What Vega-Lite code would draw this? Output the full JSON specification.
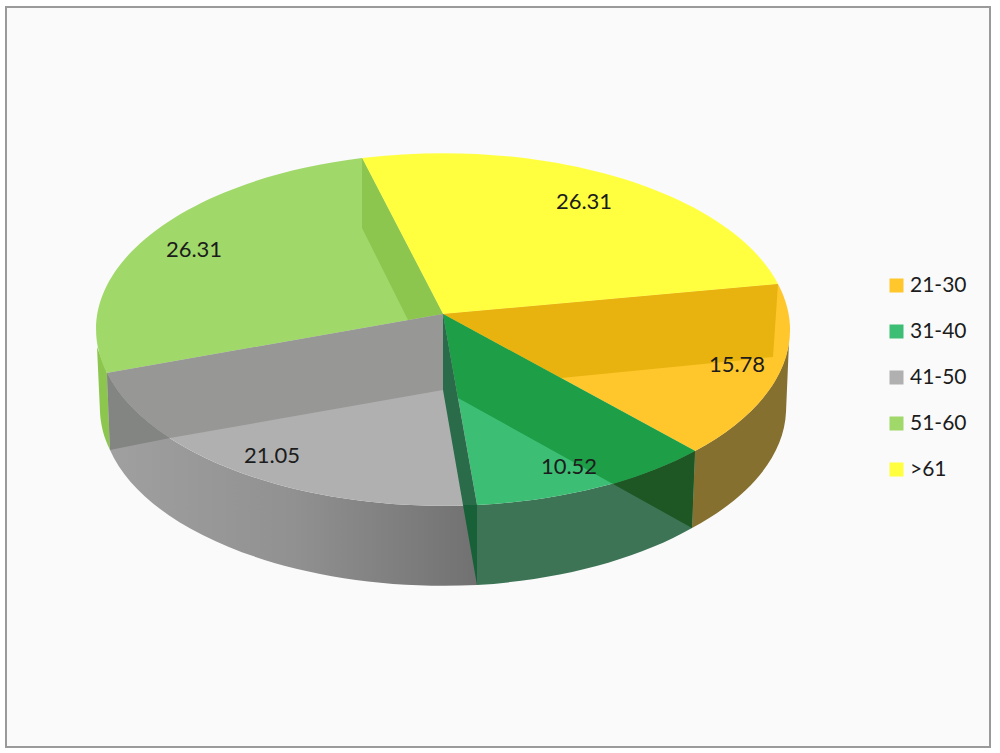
{
  "$schema": "https://vega.github.io/schema/vega-lite/v6.json",
  "width": 984, "height": 740,
  "autosize": "none",
  "padding": {"left": 6, "top": 7, "right": 10, "bottom": 6},
  "background": "#ffffff",
  "config": {
    "text": {"font": "Lato", "fontSize": 22, "color": "#1c1c1c"},
    "point": {"filled": true, "opacity": 1, "size": 4, "strokeWidth": 0}
  },
  "data": {"values": [
    {"age": "51-60", "value": 26.31},
    {"age": ">61", "value": 26.31},
    {"age": "21-30", "value": 15.78},
    {"age": "31-40", "value": 10.52},
    {"age": "41-50", "value": 21.05}
  ]},
  "layer": [
    {
      "transform": [{"filter": "datum.age == '51-60'"}],
      "mark": {"type": "rect", "fill": "#fafafa", "stroke": "#9a9a9a", "strokeWidth": 2}
    },
    {
      "transform": [{"filter": "datum.age == '51-60'"}],
      "mark": {"type": "point", "fill": "#8dc64e",
        "shape": "M-401 -30L-398 35A343 174 0 0 0 -388 73L-391 -4Z"}
    },
    {
      "transform": [{"filter": "datum.age == '21-30'"}],
      "mark": {"type": "point", "fill": "#85702f",
        "shape": "M197 74A347 176 0 0 0 291 -35L288 35A343 174 0 0 1 194 151Z"}
    },
    {
      "transform": [{"filter": "datum.age == '31-40'"}],
      "mark": {"type": "point", "fill": "#3d7456",
        "shape": "M-21 128A347 176 0 0 0 197 74L194 151A343 174 0 0 1 -21 208Z"}
    },
    {
      "transform": [{"filter": "datum.age == '41-50'"}],
      "mark": {"type": "point",
        "fill": {"x1": 0, "y1": 0, "x2": 1, "y2": 0, "gradient": "linear", "stops": [
          {"offset": 0, "color": "#a0a0a0"}, {"offset": 0.5, "color": "#919191"}, {"offset": 1, "color": "#717171"}
        ]},
        "shape": "M-391 -4A347 176 0 0 0 -21 128L-21 208A343 174 0 0 1 -388 73Z"}
    },
    {
      "transform": [{"filter": "datum.age == '21-30'"}],
      "mark": {"type": "point", "shape": "M-55 -63L280 -93A347 176 0 0 1 197 74Z"},
      "encoding": {"color": {"field": "age", "type": "nominal", "title": null,
        "scale": {
          "domain": ["21-30", "31-40", "41-50", "51-60", ">61"],
          "range": ["#ffc72c", "#3cbf74", "#b0b0b0", "#a0d86a", "#ffff40"]},
        "legend": {"orient": "none", "legendX": 880, "legendY": 268, "symbolType": "square", "symbolSize": 196,
          "symbolStrokeWidth": 0, "labelFont": "Lato", "labelFontSize": 21, "labelColor": "#1c1c1c", "labelOffset": 3, "rowPadding": 24,
          "values": ["21-30", "31-40", "41-50", "51-60", ">61"]}}}
    },
    {
      "transform": [{"filter": "datum.age == '31-40'"}],
      "mark": {"type": "point", "shape": "M-55 -63L197 74A347 176 0 0 1 -21 128Z"},
      "encoding": {"color": {"field": "age", "type": "nominal"}}
    },
    {
      "transform": [{"filter": "datum.age == '41-50'"}],
      "mark": {"type": "point", "shape": "M-55 -63L-21 128A347 176 0 0 1 -391 -4Z"},
      "encoding": {"color": {"field": "age", "type": "nominal"}}
    },
    {
      "transform": [{"filter": "datum.age == '51-60'"}],
      "mark": {"type": "point", "shape": "M-55 -63L-391 -4A347 176 0 0 1 -136 -219Z"},
      "encoding": {"color": {"field": "age", "type": "nominal"}}
    },
    {
      "transform": [{"filter": "datum.age == '>61'"}],
      "mark": {"type": "point", "shape": "M-55 -63L-136 -219A347 176 0 0 1 280 -93Z"},
      "encoding": {"color": {"field": "age", "type": "nominal"}}
    },
    {
      "transform": [{"filter": "datum.age == '51-60'"}],
      "mark": {"type": "point", "fill": "#8dc64e",
        "shape": "M-55 -63L-136 -219L-136 -149L-90 -57Z"}
    },
    {
      "transform": [{"filter": "datum.age == '21-30'"}],
      "mark": {"type": "point", "fill": "#e8b30e",
        "shape": "M-55 -63L280 -93L275 -20L63 1Z"}
    },
    {
      "transform": [{"filter": "datum.age == '31-40'"}],
      "mark": {"type": "point", "fill": "#1e9e47",
        "shape": "M-55 -63L197 74A347 176 0 0 1 115 107L-40 21Z"}
    },
    {
      "transform": [{"filter": "datum.age == '31-40'"}],
      "mark": {"type": "point", "fill": "#1e5723",
        "shape": "M197 74A347 176 0 0 1 115 107L194 151Z"}
    },
    {
      "transform": [{"filter": "datum.age == '41-50'"}],
      "mark": {"type": "point", "fill": "#979896",
        "shape": "M-55 -63L-391 -4A347 176 0 0 0 -328 61L-55 13Z"}
    },
    {
      "transform": [{"filter": "datum.age == '41-50'"}],
      "mark": {"type": "point", "fill": "#838582",
        "shape": "M-391 -4A347 176 0 0 0 -328 61L-388 73Z"}
    },
    {
      "transform": [{"filter": "datum.age == '31-40'"}],
      "mark": {"type": "point", "fill": "#2a6b4a",
        "shape": "M-55 -63L-55 13L-35 128L-21 128Z"}
    },
    {
      "transform": [{"filter": "datum.age == '31-40'"}],
      "mark": {"type": "point", "fill": "#176038",
        "shape": "M-35 128L-21 128L-21 208Z"}
    },
    {
      "transform": [{"filter": "datum.age == '>61'"}],
      "mark": {"type": "text", "dx": 86, "dy": -175},
      "encoding": {"text": {"field": "value", "type": "quantitative", "format": ".2f"}}
    },
    {
      "transform": [{"filter": "datum.age == '21-30'"}],
      "mark": {"type": "text", "dx": 239, "dy": -12},
      "encoding": {"text": {"field": "value", "type": "quantitative", "format": ".2f"}}
    },
    {
      "transform": [{"filter": "datum.age == '31-40'"}],
      "mark": {"type": "text", "dx": 71, "dy": 90},
      "encoding": {"text": {"field": "value", "type": "quantitative", "format": ".2f"}}
    },
    {
      "transform": [{"filter": "datum.age == '41-50'"}],
      "mark": {"type": "text", "dx": -226, "dy": 79},
      "encoding": {"text": {"field": "value", "type": "quantitative", "format": ".2f"}}
    },
    {
      "transform": [{"filter": "datum.age == '51-60'"}],
      "mark": {"type": "text", "dx": -304, "dy": -127},
      "encoding": {"text": {"field": "value", "type": "quantitative", "format": ".2f"}}
    }
  ]
}
